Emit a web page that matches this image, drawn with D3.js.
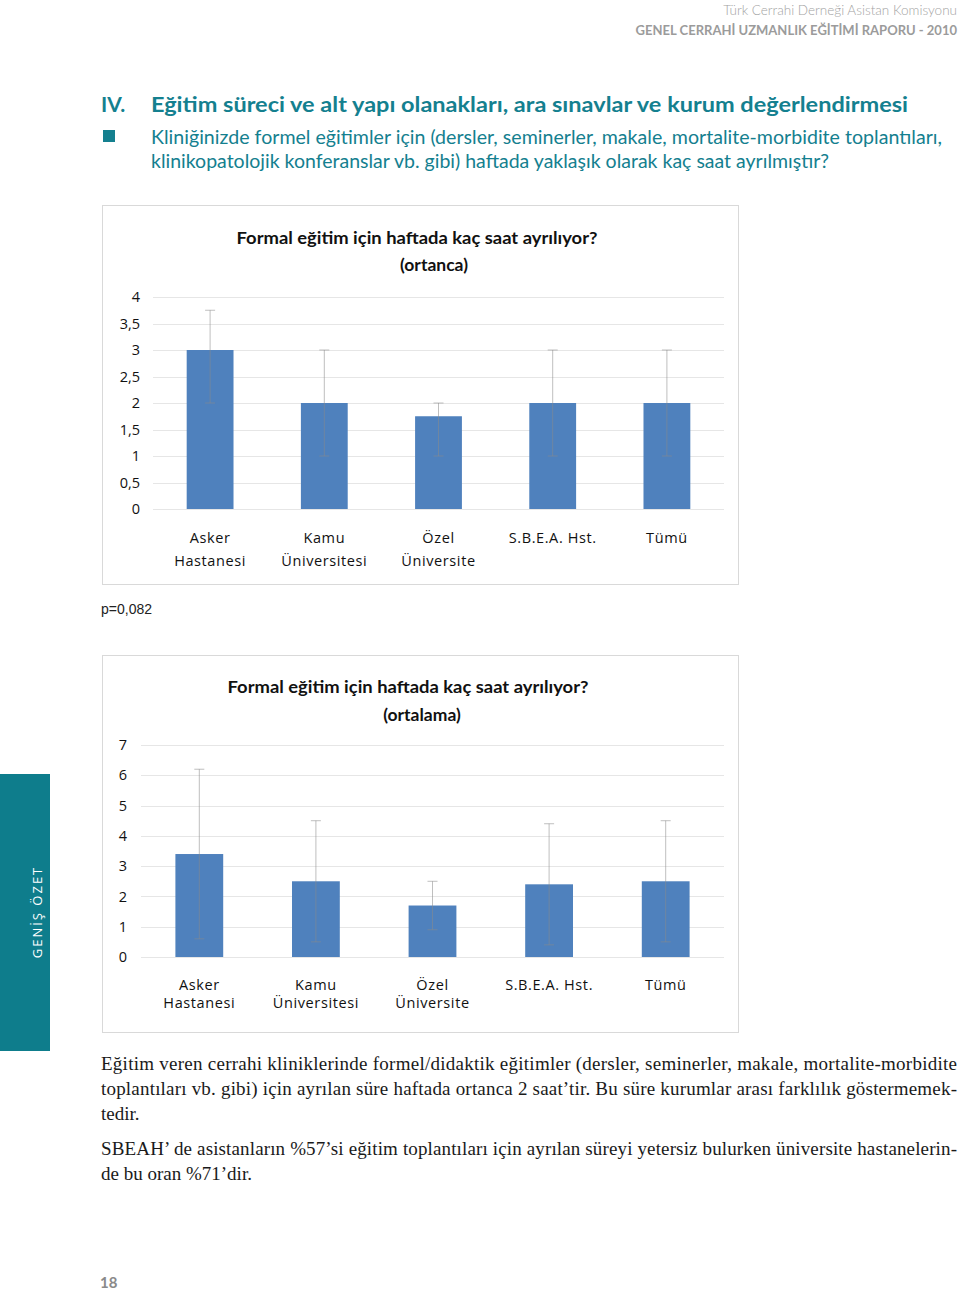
<!DOCTYPE html>
<html>
<head>
<meta charset="utf-8">
<script src="https://cdn.jsdelivr.net/npm/d3@7"></script>
<style>
  body { margin: 0; background: #fff; }
  svg { display: block; }
</style>
</head>
<body>
<script>
// chart data
var categories = ["Asker Hastanesi", "Kamu Üniversitesi", "Özel Üniversite", "S.B.E.A. Hst.", "Tümü"];
var catLines = [["Asker", "Hastanesi"], ["Kamu", "Üniversitesi"], ["Özel", "Üniversite"], ["S.B.E.A. Hst."], ["Tümü"]];

// chart 1: medians with range bars
var medianVals = [3, 2, 1.75, 2, 2];
var medianLow = [2, 1, 1, 1, 1];
var medianHigh = [3.75, 3, 2, 3, 3];
var medianTicks = [0, 0.5, 1, 1.5, 2, 2.5, 3, 3.5, 4];

// chart 2: means with +/- sd
var meanVals = [3.4, 2.5, 1.7, 2.4, 2.5];
var meanSD = [2.8, 2.0, 0.8, 2.0, 2.0];
var meanTicks = [0, 1, 2, 3, 4, 5, 6, 7];

var teal = "#14808f";
var barBlue = "#4f81bd";

var svg = d3.select("body").append("svg")
    .attr("width", 960).attr("height", 1291);

// helper for text that must fit a width
function txt(x, y, s, opts) {
    var t = svg.append("text")
        .attr("x", x).attr("y", y)
        .attr("dominant-baseline", "central")
        .style("font-family", opts.family || "Lato, 'Open Sans', sans-serif")
        .style("font-size", (opts.size || 14) + "px")
        .style("font-weight", opts.weight || "normal")
        .attr("fill", opts.color || "#000")
        .attr("text-anchor", opts.anchor || "start")
        .text(s);
    if (opts.ls) t.style("letter-spacing", opts.ls + "px");
    if (opts.width) t.attr("textLength", opts.width).attr("lengthAdjust", opts.adjust || "spacingAndGlyphs");
    if (opts.fit) {
        // shrink the font so the line is no wider than opts.fit
        var w = t.node().getComputedTextLength();
        if (w > opts.fit) t.style("font-size", ((opts.size || 14) * opts.fit / w) + "px");
    }
    return t;
}

// page header
txt(957, 10, "Türk Cerrahi Derneği Asistan Komisyonu", {anchor: "end", size: 13.5, color: "#a3a3a3", weight: 300, fit: 234});
txt(957, 30, "GENEL CERRAHİ UZMANLIK EĞİTİMİ RAPORU - 2010", {anchor: "end", size: 14, color: "#9b9b9b", weight: "bold", fit: 322});

// section heading
txt(101, 103, "IV.", {size: 21, weight: "bold", color: teal});
txt(151, 103, "Eğitim süreci ve alt yapı olanakları, ara sınavlar ve kurum değerlendirmesi", {size: 21, weight: "bold", color: teal, width: 757});
svg.append("rect").attr("x", 103).attr("y", 130).attr("width", 12).attr("height", 12).attr("fill", teal);
txt(151, 137, "Kliniğinizde formel eğitimler için (dersler, seminerler, makale, mortalite-morbidite toplantıları,", {size: 18.5, color: teal, width: 791});
txt(151, 161, "klinikopatolojik konferanslar vb. gibi) haftada yaklaşık olarak kaç saat ayrılmıştır?", {size: 18.5, color: teal, width: 678});

// side tab
svg.append("rect").attr("x", 0).attr("y", 774).attr("width", 50).attr("height", 277).attr("fill", "#0e7d8c");
svg.append("text")
    .attr("transform", "translate(37,912) rotate(-90)")
    .attr("text-anchor", "middle").attr("dominant-baseline", "central")
    .style("font-family", "'Open Sans', sans-serif").style("font-size", "13px")
    .style("letter-spacing", "2px")
    .attr("fill", "#fff").text("GENİŞ ÖZET");

function drawChart(cfg) {
    svg.append("rect")
        .attr("x", cfg.frame[0] + 0.5).attr("y", cfg.frame[1] + 0.5)
        .attr("width", cfg.frame[2]).attr("height", cfg.frame[3])
        .attr("fill", "#fff").attr("stroke", "#d9d9d9");

    var x = d3.scaleBand().domain(categories).range(cfg.xr).paddingInner(0.59).paddingOuter(0.295);
    var y = d3.scaleLinear().domain([0, cfg.ymax]).range(cfg.yr);
    var g = svg.append("g");

    // grid
    g.selectAll(".grid").data(cfg.ticks).enter().append("line")
        .attr("x1", cfg.xr[0]).attr("x2", cfg.xr[1])
        .attr("y1", function (d) { return Math.round(y(d)) + 0.5; })
        .attr("y2", function (d) { return Math.round(y(d)) + 0.5; })
        .attr("stroke", "#e6e6e6");

    // y tick labels
    var yAxis = d3.axisLeft(y).tickValues(cfg.ticks).tickSize(0).tickPadding(0)
        .tickFormat(function (d) { return String(d).replace(".", ","); });
    var ya = g.append("g").attr("transform", "translate(" + cfg.labelX + ",0)").call(yAxis);
    ya.select(".domain").remove();
    ya.selectAll("text")
        .style("font-family", "'Open Sans', sans-serif").style("font-size", "14.5px")
        .attr("fill", "#111");

    // bars
    g.selectAll(".bar").data(cfg.vals).enter().append("rect")
        .attr("x", function (d, i) { return x(categories[i]); })
        .attr("y", function (d) { return y(d); })
        .attr("width", x.bandwidth())
        .attr("height", function (d) { return y(0) - y(d); })
        .attr("fill", barBlue);

    // error bars
    var eb = g.selectAll(".err").data(cfg.vals).enter().append("g")
        .attr("stroke", "#8a8a8a").attr("stroke-opacity", 0.55).attr("stroke-width", 1);
    eb.append("line")
        .attr("x1", function (d, i) { return x(categories[i]) + x.bandwidth() / 2; })
        .attr("x2", function (d, i) { return x(categories[i]) + x.bandwidth() / 2; })
        .attr("y1", function (d, i) { return y(cfg.lo[i]); })
        .attr("y2", function (d, i) { return y(cfg.hi[i]); });
    [cfg.lo, cfg.hi].forEach(function (arr) {
        eb.append("line")
            .attr("x1", function (d, i) { return x(categories[i]) + x.bandwidth() / 2 - 5; })
            .attr("x2", function (d, i) { return x(categories[i]) + x.bandwidth() / 2 + 5; })
            .attr("y1", function (d, i) { return y(arr[i]); })
            .attr("y2", function (d, i) { return y(arr[i]); });
    });

    // category labels
    categories.forEach(function (c, i) {
        catLines[i].forEach(function (line, k) {
            g.append("text")
                .attr("x", x(c) + x.bandwidth() / 2)
                .attr("y", cfg.catY + k * cfg.catGap)
                .attr("text-anchor", "middle").attr("dominant-baseline", "central")
                .style("font-family", "'Open Sans', sans-serif").style("font-size", "14.5px")
                .style("letter-spacing", "0.6px")
                .attr("fill", "#111").text(line);
        });
    });

    // titles
    txt(cfg.t1[0], cfg.t1[1], "Formal eğitim için haftada kaç saat ayrılıyor?", {anchor: "middle", size: 17.5, weight: "bold", color: "#111", width: 361});
    txt(cfg.t2[0], cfg.t2[1], cfg.sub, {anchor: "middle", size: 17.5, weight: "bold", color: "#111"});
}

drawChart({
    frame: [102, 205, 636, 379],
    xr: [153, 724], yr: [509, 297], ymax: 4, ticks: medianTicks, labelX: 140,
    vals: medianVals, lo: medianLow, hi: medianHigh,
    catY: 537, catGap: 23,
    t1: [417, 237], t2: [434, 264], sub: "(ortanca)"
});

txt(101, 609, "p=0,082", {size: 14, family: "'Liberation Sans', Arial, sans-serif", color: "#222", width: 51});

drawChart({
    frame: [102, 655, 636, 377],
    xr: [141, 724], yr: [957, 745], ymax: 7, ticks: meanTicks, labelX: 127,
    vals: meanVals,
    lo: meanVals.map(function (d, i) { return d - meanSD[i]; }),
    hi: meanVals.map(function (d, i) { return d + meanSD[i]; }),
    catY: 984, catGap: 18,
    t1: [408, 686], t2: [422, 714], sub: "(ortalama)"
});

// body text
var para1 = [
    "Eğitim veren cerrahi kliniklerinde formel/didaktik eğitimler (dersler, seminerler, makale, mortalite-morbidite",
    "toplantıları vb. gibi) için ayrılan süre haftada ortanca 2 saat’tir. Bu süre kurumlar arası farklılık göstermemek-",
    "tedir."
];
var para2 = [
    "SBEAH’ de asistanların %57’si eğitim toplantıları için ayrılan süreyi yetersiz bulurken üniversite hastanelerin-",
    "de bu oran %71’dir."
];
var serif = "'Liberation Serif', 'DejaVu Serif', serif";
para1.forEach(function (l, i) {
    txt(101, 1063 + i * 25, l, {size: 19, family: serif, color: "#1a1a1a", width: i < 2 ? 856 : null, adjust: "spacing"});
});
para2.forEach(function (l, i) {
    txt(101, 1148 + i * 25, l, {size: 19, family: serif, color: "#1a1a1a", width: i < 1 ? 856 : null, adjust: "spacing"});
});

// page number
txt(100, 1282, "18", {size: 15, weight: "bold", color: "#8a8a8a"});
</script>
</body>
</html>
